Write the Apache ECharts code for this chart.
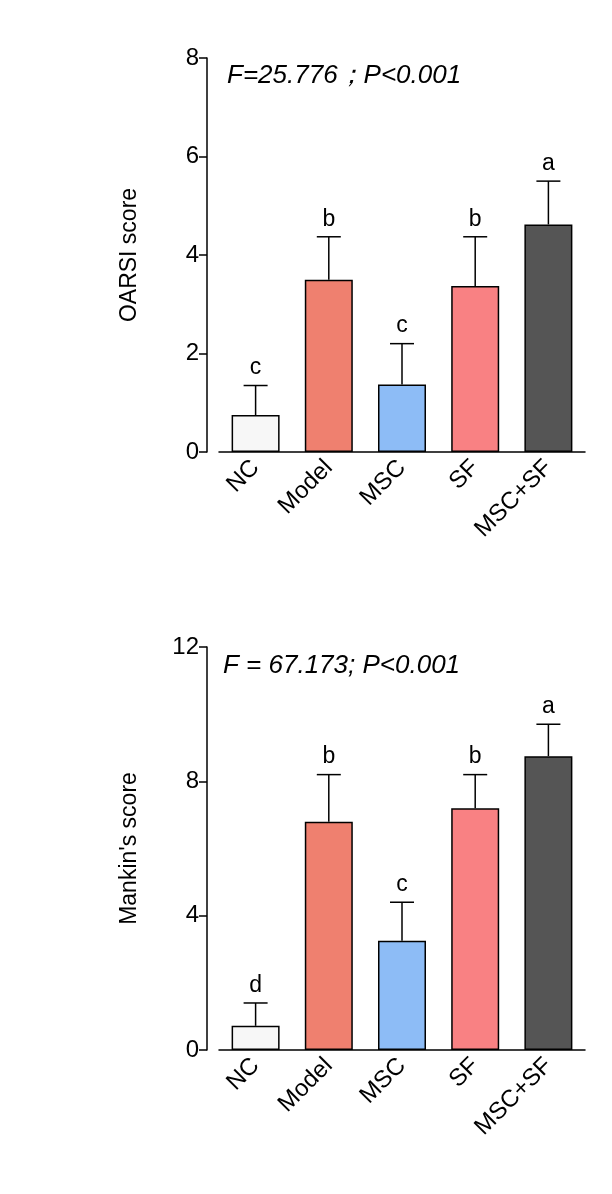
<!DOCTYPE html>
<html><head><meta charset="utf-8">
<script src="https://cdn.jsdelivr.net/npm/echarts@6/dist/echarts.min.js"></script>
<style>html,body{margin:0;padding:0;background:#fff}#c{width:612px;height:1194px}</style>
</head><body><div id="c"></div>
<script>
var groups = ['NC', 'Model', 'MSC', 'SF', 'MSC+SF'];
var colors = ['#f7f7f7', '#ef806f', '#8dbcf6', '#f98183', '#555555'];
var oarsiMean = [0.75, 3.5, 1.37, 3.37, 4.62];
var oarsiErr = [0.6, 0.87, 0.83, 1.0, 0.88];
var oarsiLetters = ['c', 'b', 'c', 'b', 'a'];
var mankinMean = [0.72, 6.8, 3.25, 7.2, 8.75];
var mankinErr = [0.68, 1.4, 1.15, 1.0, 0.95];
var mankinLetters = ['d', 'b', 'c', 'b', 'a'];

var font = 'Arial, Liberation Sans, sans-serif';
var chart = echarts.init(document.getElementById('c'));

function errSeries(idx, mean, err, letters) {
  return {
    type: 'custom', xAxisIndex: idx, yAxisIndex: idx, z: 1,
    data: mean.map(function (m, i) { return [i, m, m + err[i], letters[i]]; }),
    renderItem: function (params, api) {
      var lo = api.coord([api.value(0), api.value(1)]);
      var hi = api.coord([api.value(0), api.value(2)]);
      var s = {stroke: '#000', lineWidth: 1.5};
      return {type: 'group', children: [
        {type: 'line', shape: {x1: lo[0], y1: lo[1], x2: hi[0], y2: hi[1]}, style: s},
        {type: 'line', shape: {x1: hi[0] - 12, y1: hi[1], x2: hi[0] + 12, y2: hi[1]}, style: s},
        {type: 'text', x: hi[0], y: hi[1] - 6, style: {text: letters[params.dataIndex], font: '23px ' + font, fill: '#000', align: 'center', verticalAlign: 'bottom'}}
      ]};
    }
  };
}

function barSeries(idx, mean) {
  return {
    type: 'bar', xAxisIndex: idx, yAxisIndex: idx, barWidth: 48, z: 2,
    data: mean.map(function (v, i) { return {value: v, itemStyle: {color: colors[i], borderColor: '#000', borderWidth: 1.5}}; })
  };
}

function xAxis(idx) {
  return {
    type: 'category', gridIndex: idx, data: groups,
    axisLine: {lineStyle: {color: '#000', width: 1.5}},
    axisTick: {alignWithLabel: true, length: 8, lineStyle: {color: '#000', width: 1.5}},
    axisLabel: {rotate: 45, color: '#000', fontSize: 24, fontFamily: font, margin: 12}
  };
}

function yAxis(idx, max, interval, name) {
  return {
    type: 'value', gridIndex: idx, min: 0, max: max, interval: interval, offset: 12,
    name: name, nameLocation: 'middle', nameGap: 66, nameRotate: 90,
    nameTextStyle: {fontSize: 23, fontFamily: font, color: '#000'},
    axisLine: {show: true, lineStyle: {color: '#000', width: 1.5}},
    axisTick: {show: true, length: 8, lineStyle: {color: '#000', width: 1.5}},
    axisLabel: {color: '#000', fontSize: 24, fontFamily: font, margin: 8},
    splitLine: {show: false}
  };
}

chart.setOption({
  animation: false,
  title: [
    {text: 'F=25.776；P<0.001', left: 222, top: 58, textStyle: {fontSize: 26, fontStyle: 'italic', fontWeight: 'normal', fontFamily: font, color: '#000'}},
    {text: 'F = 67.173; P<0.001', left: 218, top: 648, textStyle: {fontSize: 26, fontStyle: 'italic', fontWeight: 'normal', fontFamily: font, color: '#000'}}
  ],
  grid: [
    {left: 219, top: 58, width: 366, height: 394},
    {left: 219, top: 647, width: 366, height: 403}
  ],
  xAxis: [xAxis(0), xAxis(1)],
  yAxis: [yAxis(0, 8, 2, 'OARSI score'), yAxis(1, 12, 4, "Mankin's score")],
  series: [
    barSeries(0, oarsiMean), errSeries(0, oarsiMean, oarsiErr, oarsiLetters),
    barSeries(1, mankinMean), errSeries(1, mankinMean, mankinErr, mankinLetters)
  ]
});
</script></body></html>
